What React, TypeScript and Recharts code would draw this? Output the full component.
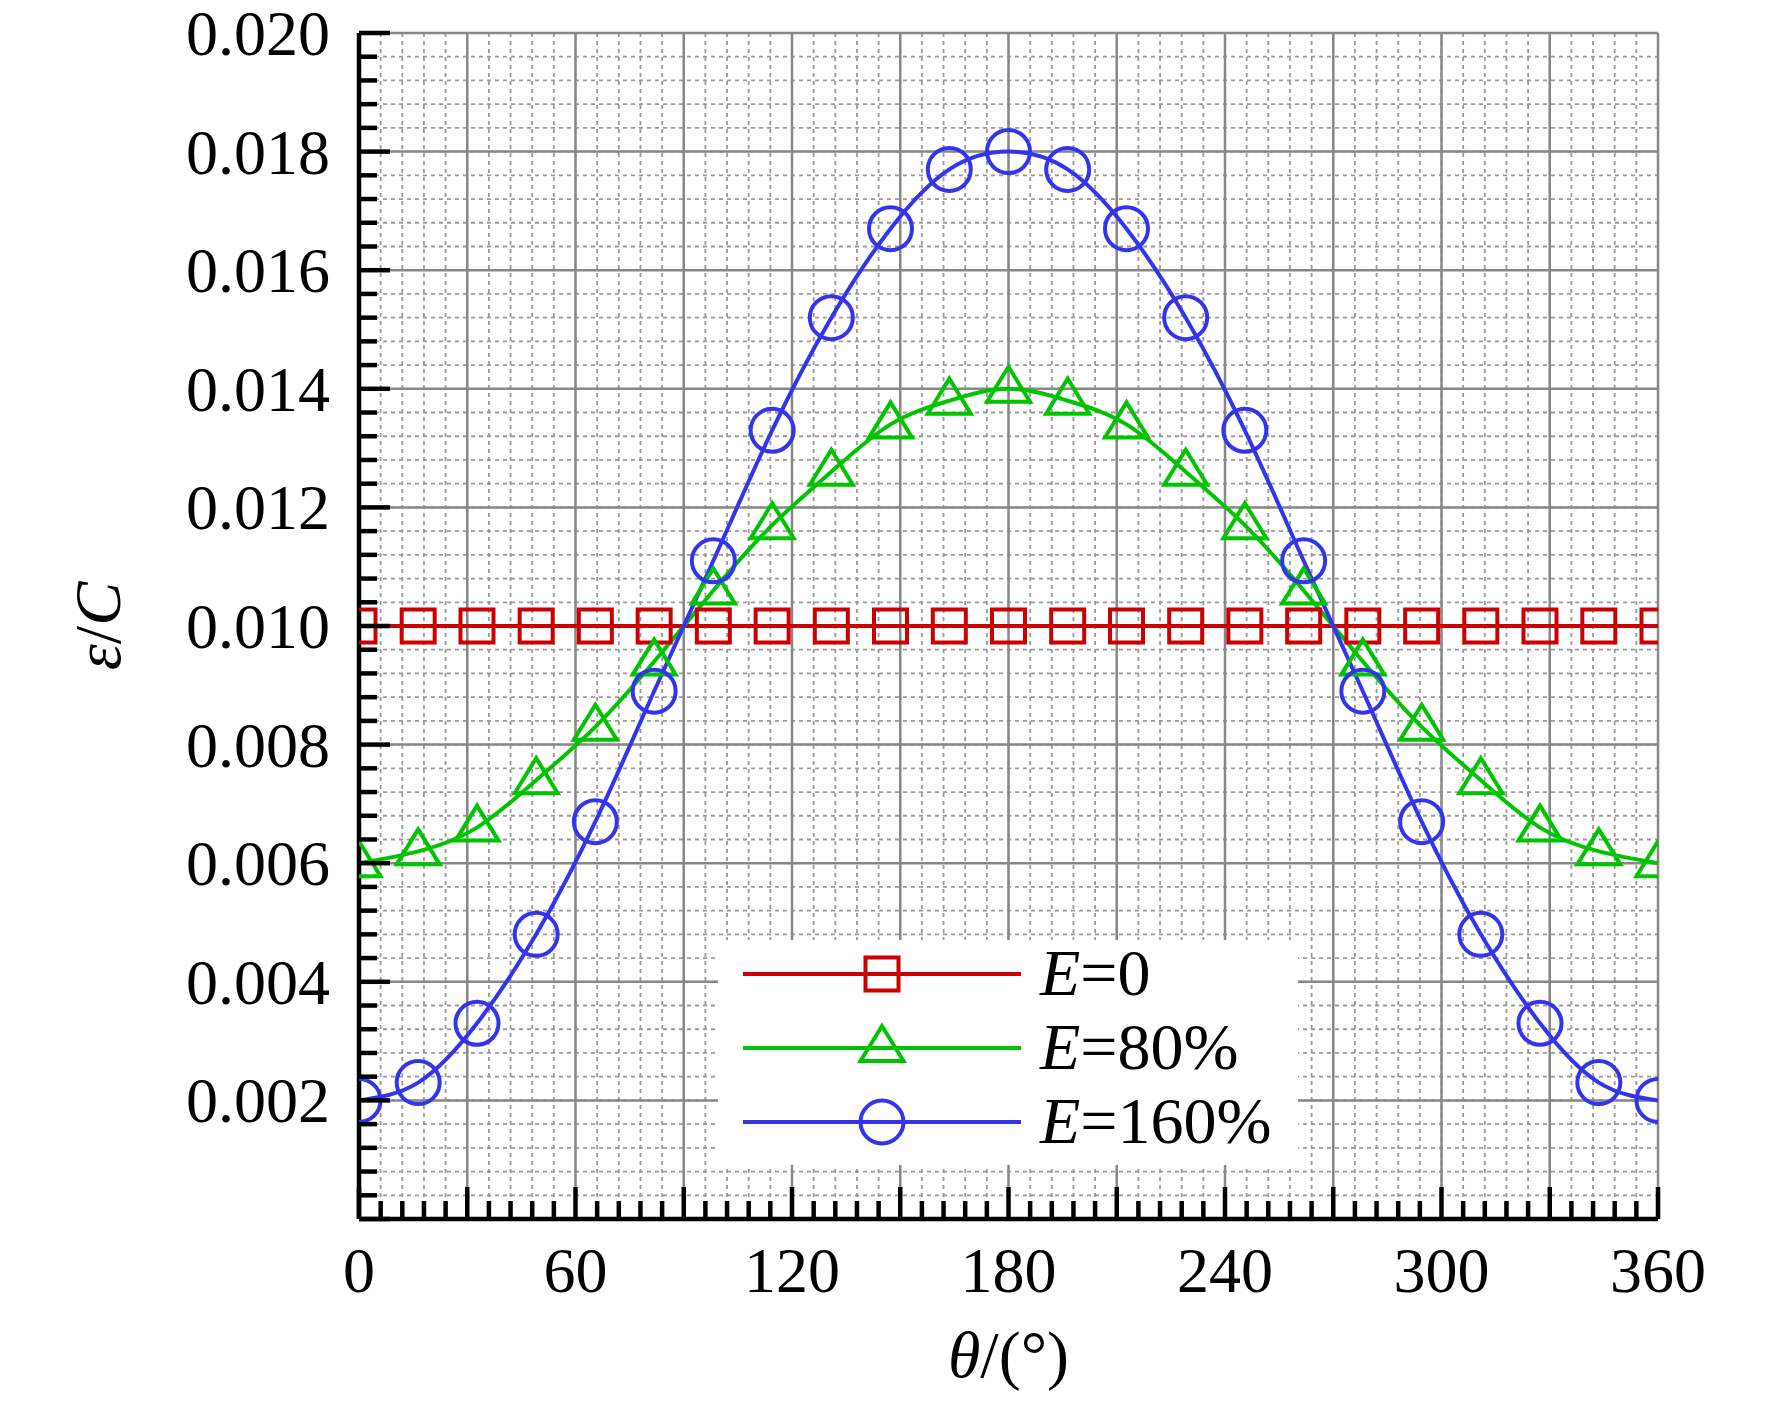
import React from 'react';
import { ComposedChart, Line, XAxis, YAxis, CartesianGrid, Legend } from 'recharts';

// θ (deg) sampling positions
const theta = [0, 16.4, 32.7, 49.1, 65.5, 81.8, 98.2, 114.5, 130.9, 147.3, 163.6, 180, 196.4, 212.7, 229.1, 245.5, 261.8, 278.2, 294.5, 310.9, 327.3, 343.6, 360];
// ε/C values
const e0 = [0.01, 0.01, 0.01, 0.01, 0.01, 0.01, 0.01, 0.01, 0.01, 0.01, 0.01, 0.01, 0.01, 0.01, 0.01, 0.01, 0.01, 0.01, 0.01, 0.01, 0.01, 0.01, 0.01];
const e80 = [0.006, 0.0062, 0.0066, 0.0074, 0.0083, 0.0094, 0.0106, 0.0117, 0.0126, 0.0134, 0.0138, 0.014, 0.0138, 0.0134, 0.0126, 0.0117, 0.0106, 0.0094, 0.0083, 0.0074, 0.0066, 0.0062, 0.006];
const e160 = [0.002, 0.0023, 0.0033, 0.0048, 0.0067, 0.0089, 0.0111, 0.0133, 0.0152, 0.0167, 0.0177, 0.018, 0.0177, 0.0167, 0.0152, 0.0133, 0.0111, 0.0089, 0.0067, 0.0048, 0.0033, 0.0023, 0.002];

const xLabelTicks = [0, 60, 120, 180, 240, 300, 360];
const xLabelText = ['0', '60', '120', '180', '240', '300', '360'];
const xMajorTicks = [0, 30, 60, 90, 120, 150, 180, 210, 240, 270, 300, 330, 360];
const xMinorTicks = Array.from({ length: 61 }, (_, i) => i * 6);

const yLabelTicks = [0.002, 0.004, 0.006, 0.008, 0.01, 0.012, 0.014, 0.016, 0.018, 0.02];
const yLabelText = ['0.002', '0.004', '0.006', '0.008', '0.010', '0.012', '0.014', '0.016', '0.018', '0.020'];
const yMajorTicks = [0, 0.002, 0.004, 0.006, 0.008, 0.01, 0.012, 0.014, 0.016, 0.018, 0.02];
const yMinorTicks = Array.from({ length: 51 }, (_, i) => Number((i * 0.0004).toFixed(4)));

const seriesKeys = ['e0', 'e80', 'e160'];
const seriesSuffix = ['=0', '=80%', '=160%'];
const seriesColors = ['#CC0000', '#00C400', '#3434EC'];
const seriesShapes = ['square', 'triangle', 'circle'];

const data = theta.map((t, i) => ({ theta: t, e0: e0[i], e80: e80[i], e160: e160[i] }));

const FONT = '"Liberation Serif", "Times New Roman", serif';
const near = (a: number, b: number) => Math.abs(a - b) < 1e-9;

const scaleOf = (axis: any) => (v: number) => {
  const s = axis && axis.scale;
  if (typeof s === 'function') return s(v);
  if (s && typeof s.map === 'function') return s.map(v);
  return 0;
};
const vGen = (vals: number[]) => ({ xAxis }: any) => vals.map(scaleOf(xAxis));
const hGen = (vals: number[]) => ({ yAxis }: any) => vals.map(scaleOf(yAxis));

const XTick = (props: any) => {
  const { x, y, payload } = props;
  const v = payload.value;
  const major = xMajorTicks.some((m) => near(m, v));
  const li = xLabelTicks.findIndex((m) => near(m, v));
  return (
    <g>
      <line x1={x} x2={x} y1={y} y2={y - (major ? 32 : 18)} stroke="#000" strokeWidth={4.5} />
      {li >= 0 && (
        <text x={x} y={y + 73} textAnchor="middle" fontSize={64} fontFamily={FONT} fill="#000">
          {xLabelText[li]}
        </text>
      )}
    </g>
  );
};

const YTick = (props: any) => {
  const { x, y, payload } = props;
  const v = payload.value;
  const major = yMajorTicks.some((m) => near(m, v));
  const li = yLabelTicks.findIndex((m) => near(m, v));
  return (
    <g>
      <line x1={x} x2={x + (major ? 31 : 18)} y1={y} y2={y} stroke="#000" strokeWidth={4.5} />
      {li >= 0 && (
        <text x={x - 29} y={y + 22} textAnchor="end" fontSize={64} fontFamily={FONT} fill="#000">
          {yLabelText[li]}
        </text>
      )}
    </g>
  );
};

const Marker = ({ shape, cx, cy, color }: any) => {
  if (cx == null || cy == null || isNaN(cx) || isNaN(cy)) return null;
  if (shape === 'square') {
    const h = 16.5;
    return <rect x={cx - h} y={cy - h} width={2 * h} height={2 * h} fill="none" stroke={color} strokeWidth={4} />;
  }
  if (shape === 'triangle') {
    const up = 22;
    const dn = 13;
    const hw = 21.5;
    return (
      <polygon
        points={`${cx},${cy - up} ${cx - hw},${cy + dn} ${cx + hw},${cy + dn}`}
        fill="none"
        stroke={color}
        strokeWidth={4}
        strokeLinejoin="miter"
      />
    );
  }
  return <circle cx={cx} cy={cy} r={21.5} fill="none" stroke={color} strokeWidth={4} />;
};

const makeDot = (i: number) => (p: any) => (
  <Marker key={`d-${i}-${p.index}`} shape={seriesShapes[i]} cx={p.cx} cy={p.cy} color={seriesColors[i]} />
);

const LEG_W = 580;
const LEG_H = 225;
const LEG_PAD = 12;

const renderLegend = () => (
  <svg width={LEG_W} height={LEG_H + LEG_PAD} style={{ display: 'block', overflow: 'visible' }}>
    <rect x={0} y={LEG_PAD} width={LEG_W} height={LEG_H} fill="#fff" />
    {seriesKeys.map((k, i) => {
      const cy = LEG_PAD + 34 + i * 74;
      return (
        <g key={k}>
          <line x1={25} x2={303} y1={cy} y2={cy} stroke={seriesColors[i]} strokeWidth={4} />
          <Marker shape={seriesShapes[i]} cx={164} cy={cy} color={seriesColors[i]} />
          <text x={322} y={cy + 21} fontSize={66} fontFamily={FONT} fill="#000">
            <tspan fontStyle="italic">E</tspan>
            {seriesSuffix[i]}
          </text>
        </g>
      );
    })}
  </svg>
);

const XLabel = (props: any) => {
  const vb = props.viewBox || { x: 359, y: 1219, width: 1299, height: 191 };
  return (
    <text x={vb.x + vb.width / 2} y={vb.y + 158} textAnchor="middle" fontSize={66} fontFamily={FONT} fill="#000">
      <tspan fontStyle="italic">θ</tspan>/(°)
    </text>
  );
};

const YLabel = (props: any) => {
  const vb = props.viewBox || { x: 0, y: 33, width: 359, height: 1186 };
  const cx = vb.x + 120;
  const cy = vb.y + vb.height / 2;
  return (
    <text x={cx} y={cy} transform={`rotate(-90 ${cx} ${cy})`} textAnchor="middle" fontSize={66} fontFamily={FONT} fill="#000">
      <tspan fontStyle="italic">ε</tspan>/<tspan fontStyle="italic">C</tspan>
    </text>
  );
};

export default function App() {
  return (
    <div style={{ width: 1772, height: 1410, background: '#fff', position: 'relative' }}>
      <style>{'body{margin:0;background:#fff;}'}</style>
      <ComposedChart width={1772} height={1410} data={data} margin={{ top: 33, right: 114, bottom: 0, left: 0 }}>
        <CartesianGrid
          stroke="#9a9a9a"
          strokeWidth={1.8}
          strokeDasharray="4 4"
          verticalCoordinatesGenerator={vGen(xMinorTicks)}
          horizontalCoordinatesGenerator={hGen(yMinorTicks)}
        />
        <CartesianGrid
          stroke="#888888"
          strokeWidth={2.5}
          verticalCoordinatesGenerator={vGen(xMajorTicks)}
          horizontalCoordinatesGenerator={hGen(yMajorTicks)}
        />
        <XAxis
          dataKey="theta"
          type="number"
          domain={[0, 360]}
          ticks={xMinorTicks}
          interval={0}
          tickSize={0}
          tickMargin={0}
          tickLine={false}
          tick={<XTick />}
          axisLine={{ stroke: '#000', strokeWidth: 4.5 }}
          height={191}
          allowDataOverflow
          label={XLabel}
        />
        <YAxis
          type="number"
          domain={[0, 0.02]}
          ticks={yMinorTicks}
          interval={0}
          tickSize={0}
          tickMargin={0}
          tickLine={false}
          tick={<YTick />}
          axisLine={{ stroke: '#000', strokeWidth: 4.5 }}
          width={359}
          allowDataOverflow
          label={YLabel}
        />
        {seriesKeys.map((k, i) => (
          <Line
            key={k}
            dataKey={k}
            type="natural"
            stroke={seriesColors[i]}
            strokeWidth={4}
            dot={makeDot(i)}
            activeDot={false}
            isAnimationActive={false}
          />
        ))}
        <Legend
          layout="vertical"
          verticalAlign="middle"
          align="center"
          wrapperStyle={{ left: 718, top: 940 - LEG_PAD, width: LEG_W, height: LEG_H + LEG_PAD }}
          content={renderLegend}
        />
      </ComposedChart>
    </div>
  );
}
